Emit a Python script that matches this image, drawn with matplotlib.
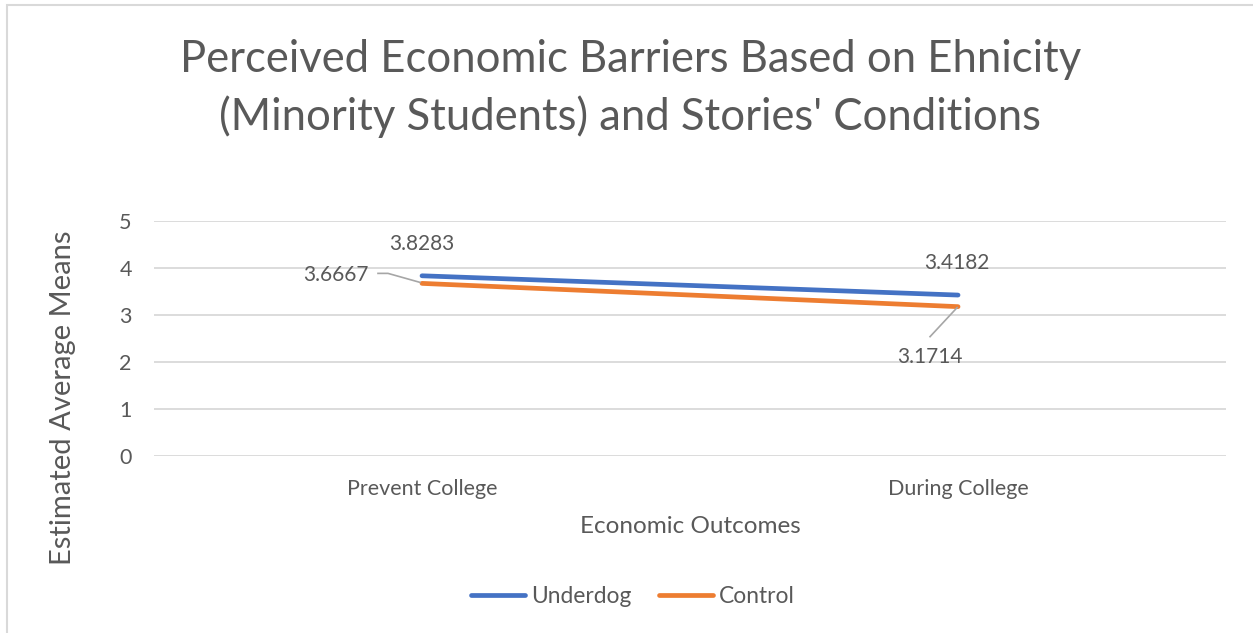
import matplotlib
matplotlib.use("Agg")
import matplotlib.pyplot as plt
from matplotlib.lines import Line2D
from matplotlib.patches import Rectangle

plt.rcParams['font.family'] = ['Lato', 'DejaVu Sans']

categories = ["Prevent College", "During College"]
underdog = [3.8283, 3.4182]
control = [3.6667, 3.1714]

BLUE = "#4472C4"
ORANGE = "#ED7D31"
GRID = "#d9d9d9"
TXT = "#595959"

fig = plt.figure(figsize=(12.53, 6.33), dpi=100)
ax = fig.add_axes([0.1229, 0.2801, 0.8556, 0.3712])

x = list(range(len(categories)))
ax.plot(x, underdog, color=BLUE, lw=3.4, solid_capstyle="round", label="Underdog", zorder=3)
ax.plot(x, control, color=ORANGE, lw=3.4, solid_capstyle="round", label="Control", zorder=3)

ax.set_xlim(-0.5, 1.5)
ax.set_ylim(0, 5)
ax.set_yticks(range(0, 6))
ax.set_xticks(x)
ax.set_xticklabels(categories)
ax.grid(axis="y", color=GRID, lw=1.3)
ax.set_axisbelow(True)
for s in ax.spines.values():
    s.set_visible(False)
ax.tick_params(axis="both", length=0, labelsize=15.5, labelcolor=TXT)
ax.tick_params(axis="y", pad=16)
ax.tick_params(axis="x", pad=17)

ax.set_xlabel("Economic Outcomes", fontsize=17.5, color=TXT, labelpad=12)
ax.set_ylabel("Estimated Average Means", fontsize=21, color=TXT)
# axis title sits low, beside the lower part of the plot
ax.yaxis.set_label_coords(-0.073, 0.245)

fig.text(0.503, 0.86, "Perceived Economic Barriers Based on Ehnicity\n(Minority Students) and Stories' Conditions",
         ha="center", va="center", fontsize=31.4, color=TXT, linespacing=1.45)

# data labels, offsets in pixels from the point
lbl = dict(textcoords="offset pixels", fontsize=15, color=TXT, va="center")
ax.annotate(f"{underdog[0]:.4f}", (x[0], underdog[0]), xytext=(0, 32), ha="center", **lbl)
ax.annotate(f"{underdog[1]:.4f}", (x[1], underdog[1]), xytext=(-1, 32), ha="center", **lbl)
ax.annotate(f"{control[0]:.4f}", (x[0], control[0]), xytext=(-53, 8), ha="right", **lbl)
ax.annotate(f"{control[1]:.4f}", (x[1], control[1]), xytext=(-28, -50), ha="center", **lbl)

# leader lines drawn in display pixels
fig.canvas.draw()
def leader(xd, yd, offs):
    px, py = ax.transData.transform((xd, yd))
    xs = [px + dx for dx, dy in offs]
    ys = [py + dy for dx, dy in offs]
    fig.add_artist(Line2D(xs, ys, transform=None, color="#a6a6a6", lw=1.2, zorder=2))

leader(x[0], control[0], [(-44, 10), (-34, 10), (-2, 1)])
leader(x[1], control[1], [(-28, -30), (-1, -1)])

leg = fig.legend(handles=[Line2D([], [], color=BLUE, lw=3.4, solid_capstyle="round"),
                          Line2D([], [], color=ORANGE, lw=3.4, solid_capstyle="round")],
                 labels=["Underdog", "Control"], loc="center", bbox_to_anchor=(0.505, 0.057),
                 ncol=2, frameon=False, fontsize=16.4, handlelength=2.4, handletextpad=0.25,
                 columnspacing=1.2)
for t in leg.get_texts():
    t.set_color(TXT)

fig.add_artist(Rectangle((7 / 1253, -0.05), 1.1, (633 - 5) / 633 + 0.05, transform=fig.transFigure,
                         fill=False, edgecolor=GRID, lw=1.5))

fig.savefig("out.png", dpi=100, facecolor="white")
